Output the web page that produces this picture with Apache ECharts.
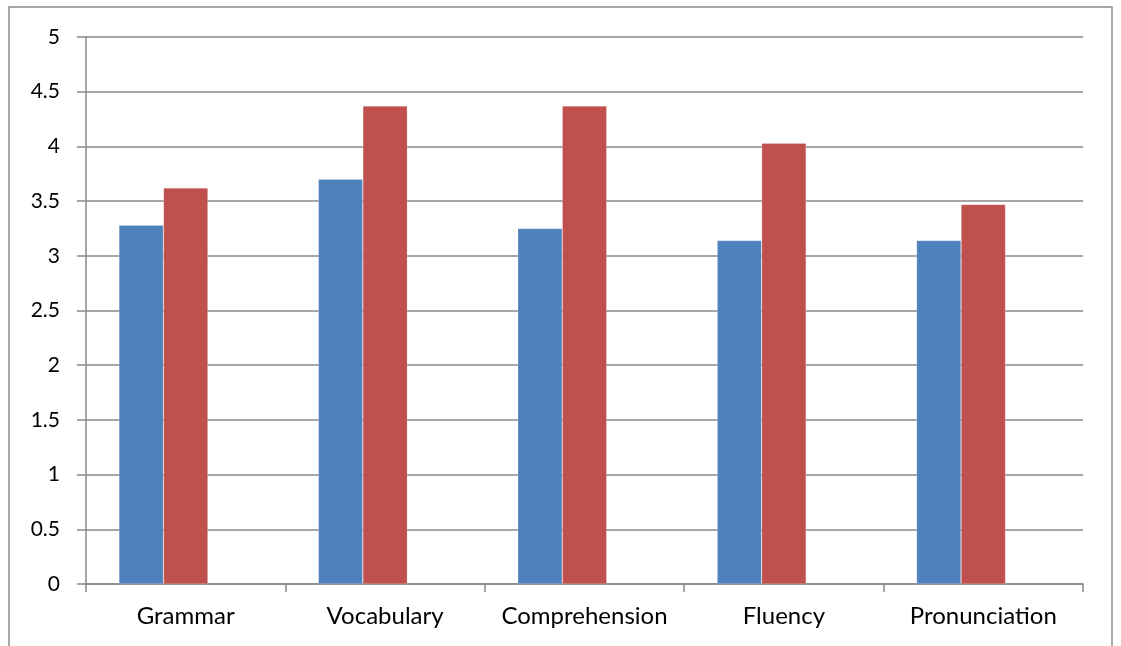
<!DOCTYPE html>
<html>
<head>
<meta charset="utf-8">
<script src="https://cdn.jsdelivr.net/npm/echarts@6/dist/echarts.min.js"></script>
<style>
  html, body { margin: 0; padding: 0; background: #ffffff; }
  #chart { width: 1121px; height: 646px; }
</style>
</head>
<body>
<div id="chart"></div>
<script>
// Skill areas along the horizontal axis
const categories = ['Grammar', 'Vocabulary', 'Comprehension', 'Fluency', 'Pronunciation'];
// Mean scores for the two groups
const seriesBlue = [3.28, 3.70, 3.25, 3.14, 3.14];
const seriesRed = [3.62, 4.37, 4.37, 4.03, 3.47];
// Third series slot has no values, but still takes its place in each cluster
const seriesEmpty = [null, null, null, null, null];
// Value axis ticks
const yTicks = [0, 0.5, 1, 1.5, 2, 2.5, 3, 3.5, 4, 4.5, 5];

const axisGray = '#898989';
const fontFamily = 'Lato, "Open Sans", sans-serif';

const chart = echarts.init(document.getElementById('chart'), null, { renderer: 'canvas' });
chart.setOption({
  animation: false,
  backgroundColor: '#ffffff',
  graphic: [{
    type: 'rect',
    shape: { x: 9, y: 7, width: 1103, height: 700 },
    style: { fill: 'none', stroke: '#8c8c8c', lineWidth: 1.5 },
    silent: true
  }],
  grid: { left: 86, top: 37, right: 38, bottom: 62, containLabel: false },
  xAxis: {
    type: 'category',
    data: categories,
    axisLine: { lineStyle: { color: axisGray, width: 1.5 } },
    axisTick: { show: true, length: 8, lineStyle: { color: axisGray, width: 1.5 } },
    axisLabel: {
      color: '#000000', fontSize: 24, fontFamily: fontFamily, margin: 20,
      interval: 0, hideOverlap: false
    },
    splitLine: { show: false }
  },
  yAxis: {
    type: 'value',
    min: yTicks[0],
    max: yTicks[yTicks.length - 1],
    interval: yTicks[1] - yTicks[0],
    axisLine: { show: true, lineStyle: { color: axisGray, width: 1.5 } },
    axisTick: { show: true, length: 9, lineStyle: { color: axisGray, width: 1.5 } },
    axisLabel: {
      color: '#000000', fontSize: 21, fontFamily: fontFamily, margin: 26,
      formatter: v => yTicks.includes(v) ? String(v) : ''
    },
    splitLine: { show: true, lineStyle: { color: axisGray, width: 1.5 } }
  },
  series: [
    {
      type: 'bar',
      data: seriesBlue,
      barGap: '0%',
      barCategoryGap: '33%',
      itemStyle: { color: '#4F81BD', borderColor: 'rgba(255,255,255,0.35)', borderWidth: 0.6 }
    },
    {
      type: 'bar',
      data: seriesRed,
      itemStyle: { color: '#C0504D', borderColor: 'rgba(255,255,255,0.35)', borderWidth: 0.6 }
    },
    {
      type: 'bar',
      data: seriesEmpty,
      itemStyle: { color: '#9BBB59' }
    }
  ]
});
</script>
</body>
</html>
